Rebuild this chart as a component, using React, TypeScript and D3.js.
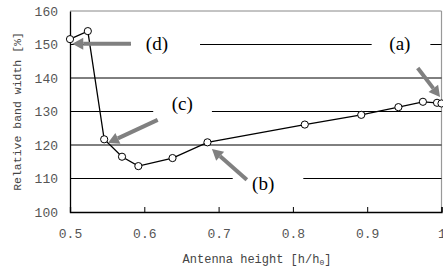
import { useEffect, useRef } from 'react'
import * as d3 from 'd3'

// antenna height h/h0 and relative bandwidth (%)
const heights = [0.5, 0.524, 0.546, 0.57, 0.592, 0.638, 0.685, 0.816, 0.892, 0.942, 0.975, 0.994, 1.0]
const bandwidth = [151.6, 154.0, 121.7, 116.5, 113.7, 116.1, 120.8, 126.1, 129.0, 131.3, 132.9, 132.6, 132.4]

const yTicks = [100, 110, 120, 130, 140, 150, 160]
const xTicks = [0.5, 0.6, 0.7, 0.8, 0.9, 1.0]
const xTickLabels = ['0.5', '0.6', '0.7', '0.8', '0.9', '1']

// annotation labels, in data units
const labels = ['(a)', '(b)', '(c)', '(d)']
const labelX = [0.944, 0.76, 0.651, 0.617]
const labelY = [150.4, 108.7, 132.5, 150.2]
// white box behind each label (x range in data units)
const boxX0 = [0.906, 0.719, 0.612, 0.582]
const boxX1 = [0.985, 0.814, 0.691, 0.675]
// arrows: tail -> tip
const arrowX0 = [0.968, 0.738, 0.618, 0.582]
const arrowY0 = [143, 109.6, 127.5, 150.2]
const arrowX1 = [0.998, 0.691, 0.551, 0.503]
const arrowY1 = [134.3, 118.8, 120.6, 150.2]

export default function App() {
  const ref = useRef<SVGSVGElement | null>(null)

  useEffect(() => {
    const width = 443
    const height = 271
    const margin = { top: 11, right: 1.5, bottom: 59, left: 70 }

    const svg = d3.select(ref.current)
    svg.selectAll('*').remove()

    const x = d3.scaleLinear().domain([0.5, 1.0]).range([margin.left, width - margin.right])
    const y = d3.scaleLinear().domain([100, 160]).range([height - margin.bottom, margin.top])

    const axisFont = '"Liberation Mono", monospace'

    // frame top/right (gray)
    svg.append('line')
      .attr('x1', x(0.5)).attr('x2', x(1)).attr('y1', y(160)).attr('y2', y(160))
      .attr('stroke', '#888').attr('stroke-width', 1)
    svg.append('line')
      .attr('x1', x(1)).attr('x2', x(1)).attr('y1', y(160)).attr('y2', y(100))
      .attr('stroke', '#999').attr('stroke-width', 1.2)

    // gridlines
    svg.append('g')
      .selectAll('line')
      .data(yTicks.filter(t => t > 100 && t < 160))
      .join('line')
      .attr('x1', x(0.5)).attr('x2', x(1))
      .attr('y1', d => y(d)).attr('y2', d => y(d))
      .attr('stroke', '#000').attr('stroke-width', 1)

    // axes
    const yAxis = d3.axisLeft(y).tickValues(yTicks).tickSize(0).tickPadding(12).tickFormat(d3.format('d'))
    svg.append('g')
      .attr('transform', `translate(${margin.left},0)`)
      .call(yAxis)
      .call(g => g.select('.domain').attr('stroke', '#000').attr('stroke-width', 1.3))
      .call(g => g.selectAll('text').attr('fill', '#555').attr('font-size', 13).attr('font-family', axisFont))

    const xAxis = d3.axisBottom(x).tickValues(xTicks).tickSize(-5).tickPadding(17)
      .tickFormat((d, i) => xTickLabels[i])
    svg.append('g')
      .attr('transform', `translate(0,${height - margin.bottom})`)
      .call(xAxis)
      .call(g => g.select('.domain').attr('stroke', '#000').attr('stroke-width', 1.3))
      .call(g => g.selectAll('.tick line').attr('stroke', '#000'))
      .call(g => g.selectAll('text').attr('fill', '#555').attr('font-size', 13).attr('font-family', axisFont))

    // axis titles
    const xt = svg.append('text')
      .attr('x', 257).attr('y', 263)
      .attr('text-anchor', 'middle')
      .attr('font-family', axisFont).attr('font-size', 12).attr('fill', '#444')
    xt.append('tspan').text('Antenna height [h/h')
    xt.append('tspan').attr('font-size', 8).attr('dy', 2).text('0')
    xt.append('tspan').attr('dy', -2).text(']')

    svg.append('text')
      .attr('transform', `translate(21,${y(130)}) rotate(-90)`)
      .attr('text-anchor', 'middle')
      .attr('font-family', axisFont).attr('font-size', 11.5).attr('fill', '#444')
      .text('Relative band width [%]')

    // data line and markers
    const pts = heights.map((h, i) => [h, bandwidth[i]] as [number, number])
    const line = d3.line<[number, number]>().x(d => x(d[0])).y(d => y(d[1]))
    svg.append('path')
      .datum(pts)
      .attr('d', line)
      .attr('fill', 'none').attr('stroke', '#000').attr('stroke-width', 1.3)
    svg.append('g')
      .selectAll('circle')
      .data(pts)
      .join('circle')
      .attr('cx', d => x(d[0])).attr('cy', d => y(d[1])).attr('r', 3.6)
      .attr('fill', '#fff').attr('stroke', '#000').attr('stroke-width', 1)

    // label boxes
    labels.forEach((lab, i) => {
      svg.append('rect')
        .attr('x', x(boxX0[i])).attr('width', x(boxX1[i]) - x(boxX0[i]))
        .attr('y', y(labelY[i]) - 12).attr('height', 24)
        .attr('fill', '#fff')
      svg.append('text')
        .attr('x', x(labelX[i])).attr('y', y(labelY[i]))
        .attr('dy', '0.35em')
        .attr('text-anchor', 'middle')
        .attr('font-family', '"Liberation Serif", serif').attr('font-size', 19).attr('fill', '#000')
        .text(lab)
    })

    // arrows
    labels.forEach((_, i) => {
      const x0 = x(arrowX0[i]), y0 = y(arrowY0[i])
      const x1 = x(arrowX1[i]), y1 = y(arrowY1[i])
      const dx = x1 - x0, dy = y1 - y0
      const len = Math.hypot(dx, dy)
      const ux = dx / len, uy = dy / len
      const headLen = 11, headW = 6
      const bx = x1 - ux * headLen, by = y1 - uy * headLen
      svg.append('line')
        .attr('x1', x0).attr('y1', y0).attr('x2', bx).attr('y2', by)
        .attr('stroke', '#808080').attr('stroke-width', 4)
      svg.append('path')
        .attr('d', `M${x1},${y1}L${bx - uy * headW},${by + ux * headW}L${bx + uy * headW},${by - ux * headW}Z`)
        .attr('fill', '#808080')
    })
  }, [])

  return (
    <div style={{ position: 'fixed', left: 0, top: 0 }}>
      <svg ref={ref} width={443} height={271} style={{ display: 'block', background: '#fff' }} />
    </div>
  )
}
